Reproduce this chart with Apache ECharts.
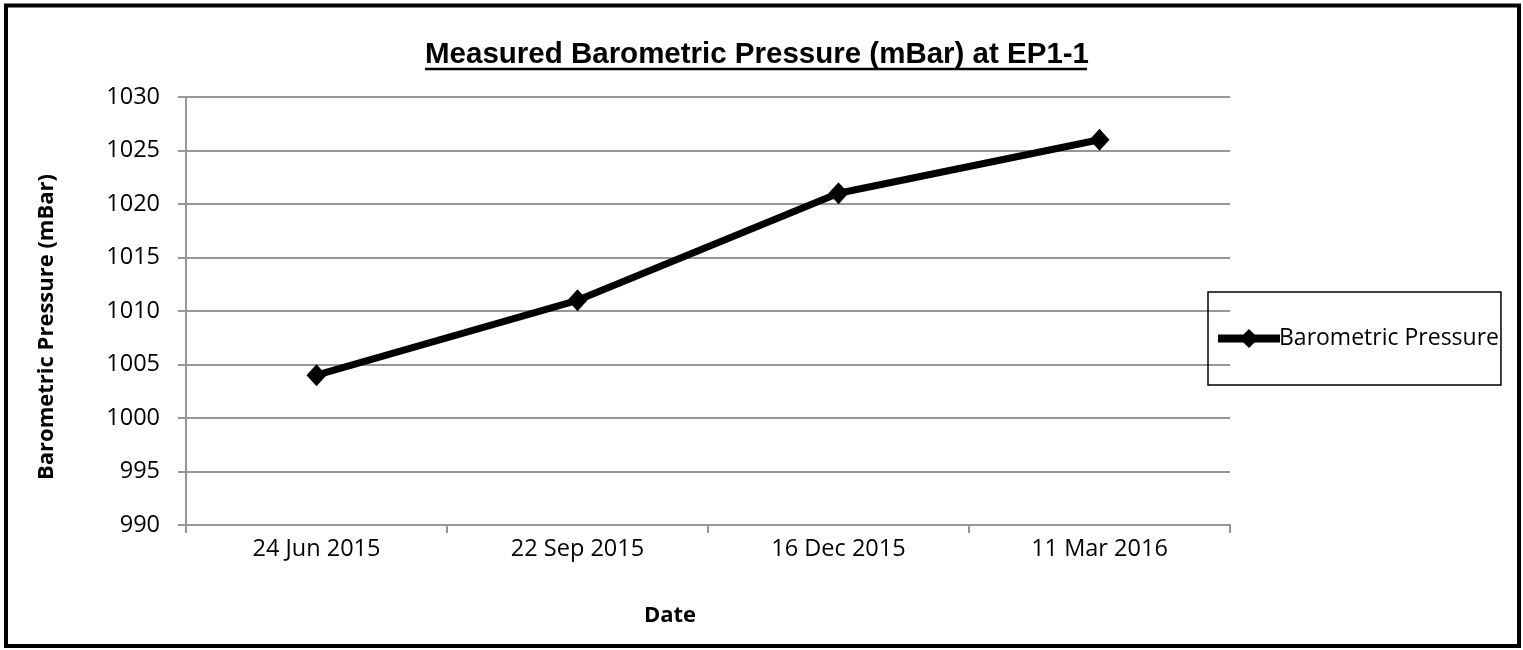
<!DOCTYPE html>
<html>
<head>
<meta charset="utf-8">
<script src="https://cdn.jsdelivr.net/npm/echarts@6/dist/echarts.min.js"></script>
<style>
  html, body { margin: 0; padding: 0; background: #fff; }
  #chart { width: 1523px; height: 650px; }
</style>
</head>
<body>
<div id="chart"></div>
<script>
  // data
  const dates = ['24 Jun 2015', '22 Sep 2015', '16 Dec 2015', '11 Mar 2016']
  const pressure = [1004, 1011, 1021, 1026]
  const seriesName = 'Barometric Pressure'

  const gridColor = '#969696'
  const labelFont = 'Open Sans'

  const chart = echarts.init(document.getElementById('chart'))
  chart.setOption({
    animation: false,
    backgroundColor: '#fff',
    title: {
      text: 'Measured Barometric Pressure (mBar) at EP1-1',
      left: 425,
      top: 40,
      padding: 0,
      textStyle: {
        fontFamily: 'Liberation Sans',
        fontWeight: 'bold',
        fontSize: 29.5,
        color: '#000'
      }
    },
    graphic: [
      // outer frame
      {
        type: 'rect',
        shape: { x: 6, y: 5.5, width: 1513, height: 640.5 },
        style: { fill: 'none', stroke: '#000', lineWidth: 4 },
        silent: true
      },
      // title underline
      {
        type: 'line',
        shape: { x1: 425, y1: 69, x2: 1087, y2: 69 },
        style: { stroke: '#000', lineWidth: 2.5 },
        silent: true
      }
    ],
    legend: {
      orient: 'vertical',
      left: 1208,
      top: 292,
      padding: [35, 2, 35, 6],
      borderColor: '#000',
      borderWidth: 1.5,
      itemWidth: 62,
      itemHeight: 24,
      itemGap: 0,
      itemStyle: { color: '#000' },
      lineStyle: { color: '#000', width: 8 },
      textStyle: { fontFamily: labelFont, fontSize: 23, color: '#000', padding: [0, 0, 0, -6] },
      data: [seriesName]
    },
    grid: {
      left: 186,
      right: 293,
      top: 97,
      bottom: 125
    },
    xAxis: {
      type: 'category',
      data: dates,
      boundaryGap: true,
      name: 'Date',
      nameLocation: 'middle',
      nameGap: 80,
      nameTextStyle: {
        fontFamily: labelFont,
        fontWeight: 'bold',
        fontSize: 22,
        color: '#000',
        padding: [0, 76, 0, 0]
      },
      axisLine: { lineStyle: { color: gridColor, width: 2 } },
      axisTick: { show: true, length: 8, interval: 0, lineStyle: { color: gridColor, width: 2 } },
      axisLabel: { margin: 12, fontFamily: labelFont, fontSize: 23.5, color: '#000', interval: 0 },
      splitLine: { show: false }
    },
    yAxis: {
      type: 'value',
      min: 990,
      max: 1030,
      interval: 5,
      name: 'Barometric Pressure (mBar)',
      nameLocation: 'middle',
      nameRotate: 90,
      nameGap: 128,
      nameTextStyle: {
        fontFamily: labelFont,
        fontWeight: 'bold',
        fontSize: 22,
        color: '#000',
        padding: [0, 32, 0, 0]
      },
      axisLine: { show: true, lineStyle: { color: gridColor, width: 2 } },
      axisTick: { show: true, length: 8, lineStyle: { color: gridColor, width: 2 } },
      axisLabel: {
        margin: 26,
        fontFamily: labelFont,
        fontSize: 23.5,
        color: '#000',
        formatter: v => String(v)
      },
      splitLine: { lineStyle: { color: gridColor, width: 2 } }
    },
    series: [
      {
        name: seriesName,
        type: 'line',
        data: pressure,
        symbol: 'diamond',
        symbolSize: [20, 22],
        showAllSymbol: true,
        lineStyle: { color: '#000', width: 7 },
        itemStyle: { color: '#000', borderWidth: 0 }
      }
    ]
  })
</script>
</body>
</html>
